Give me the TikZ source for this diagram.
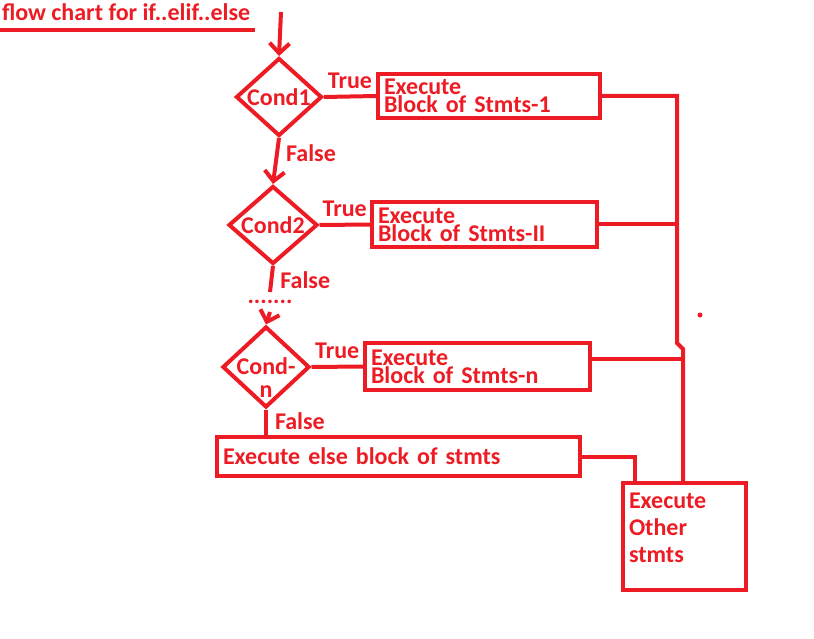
\documentclass[tikz,border=0pt]{standalone}
\usepackage{fontspec}
\setmainfont{Carlito}
\usepackage{xcolor}
\usetikzlibrary{shapes.geometric,arrows.meta,positioning}
\definecolor{paintred}{RGB}{237,28,36}

\begin{document}
\begin{tikzpicture}[
      x=1pt, y=-1pt,
      every node/.style={text=paintred, font=\bfseries\fontsize{24}{18}\selectfont},
      cond/.style={diamond, draw=paintred, line width=4pt, inner sep=0pt},
      stmt/.style={rectangle, draw=paintred, line width=4pt, align=left, inner xsep=6pt},
      tag/.style={inner sep=0pt, outer sep=0pt},
      link/.style={draw=paintred, line width=4pt},
      arrow/.style={link, -{Straight Barb[length=10pt,width=20pt]}}
    ]
      \useasboundingbox (0,0) rectangle (814,639);

      % Title
      \node[tag, anchor=base west] (title) at (2,21) {flow chart for if..elif..else};
      \draw[link] ([xshift=-2pt,yshift=-9pt]title.south west) -- ([xshift=5pt,yshift=-9pt]title.south east);

      % Conditions
      \coordinate (start) at (281,12);
      \node[cond, minimum width=86pt, minimum height=78pt, label=center:Cond1] (c1) at (279,97) {};
      \node[cond, minimum width=89pt, minimum height=78pt, label=center:Cond2] (c2) at (273,225) {};
      \node[tag, minimum height=20pt] (dots) at (270,302) {.......};
      \node[cond, minimum width=87pt, minimum height=81pt,
            label={[align=center, yshift=-11pt, font=\bfseries\fontsize{24}{23}\selectfont]center:Cond-\\n}] (cn) at (266,367) {};

      % Statement blocks
      \node[stmt, minimum width=222pt, minimum height=44pt, text width=210pt] (blk1) at (489,96) {Execute\\Block of Stmts-1};
      \node[stmt, minimum width=225pt, minimum height=45pt, text width=213pt] (blk2) at (484.5,224.5) {Execute\\Block of Stmts-II};
      \node[stmt, minimum width=225pt, minimum height=47pt, text width=213pt] (blkn) at (477.5,366.5) {Execute\\Block of Stmts-n};
      \node[stmt, minimum width=363pt, minimum height=39pt, text width=351pt] (els) at (398.5,456.5) {Execute else block of stmts};
      \node[stmt, minimum width=123pt, minimum height=107pt, text width=111pt, text depth=72pt,
            font=\bfseries\fontsize{24}{27}\selectfont] (other) at (684.5,536.5) {Execute\\Other\\stmts};

      % Flow down the conditions
      \draw[arrow] (start) -- (c1.north);
      \draw[arrow] (c1.south) -- node[tag, right, pos=0.32, xshift=9pt] {False} (c2.north);
      \draw[link] (c2.south) -- node[tag, right, pos=0.55, xshift=9pt] {False} (dots.north);
      \draw[arrow] (dots.south) -- (cn.north);
      \draw[link] (cn.south) -- node[tag, right, pos=0.45, xshift=9pt] {False} (cn.south |- els.north);

      % True branches
      \draw[link] (c1.east) -- node[tag, above=8pt] {True} (blk1.west);
      \draw[link] (c2.east) -- node[tag, above=8pt] {True} (blk2.west);
      \draw[link] (cn.east) -- node[tag, above=8pt] {True} (blkn.west);

      % Joining to the other statements
      \coordinate (bend) at (677,343);
      \coordinate (kink) at (683,349);
      \draw[link] (blk1.east) -| (bend) -- (kink) -- (kink |- other.north);
      \draw[link] (blk2.east) -- (blk2.east -| bend);
      \draw[link] ([yshift=8pt]blkn.east) -- ([yshift=8pt]blkn.east -| kink);
      \draw[link] (els.east) -| ([xshift=14pt]other.north west);

      \fill[paintred] (700,315) circle (2.5pt);
    \end{tikzpicture}
\end{document}
